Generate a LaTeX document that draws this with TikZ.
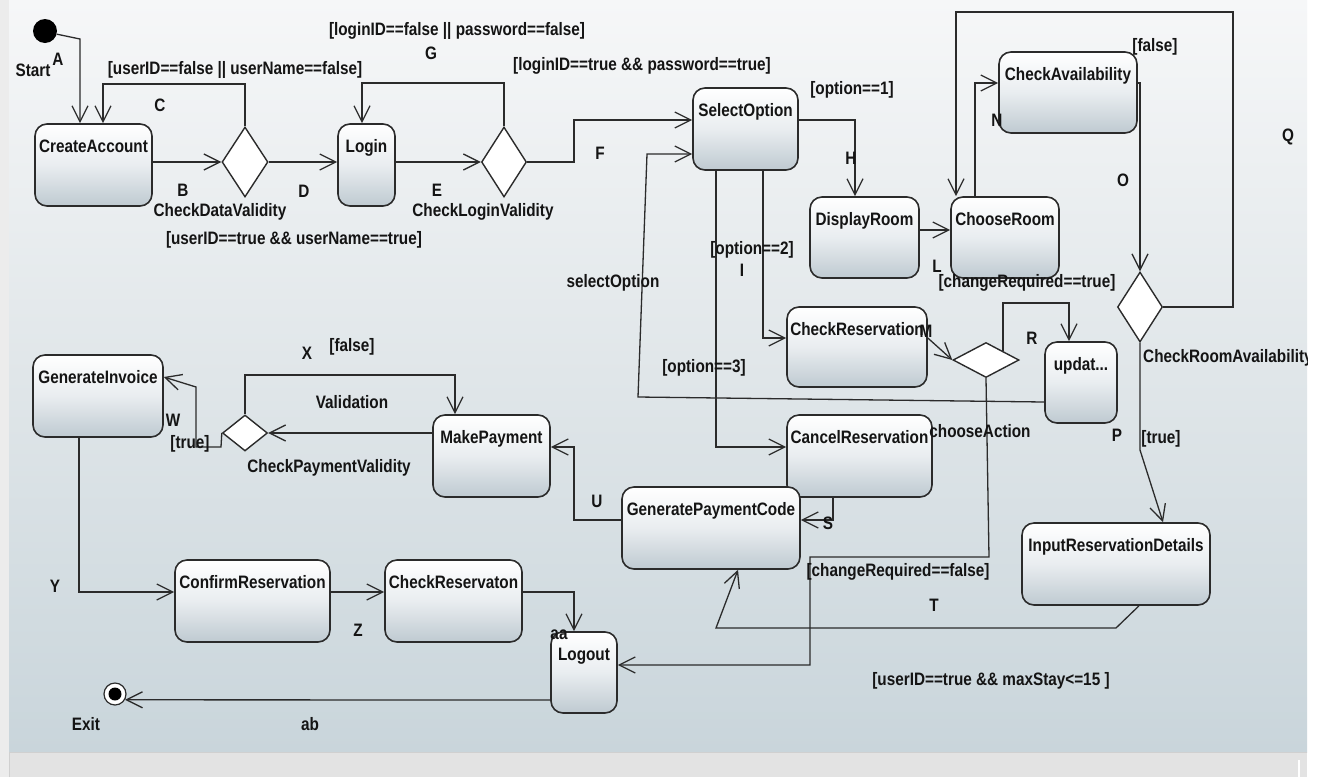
\documentclass[tikz,border=0pt]{standalone}
\usepackage{fontspec}
\newfontfamily\diagfont{Liberation Sans}[FakeStretch=0.85]
\usetikzlibrary{arrows.meta,shapes.geometric}

\definecolor{edge}{HTML}{2B2B2B}
\definecolor{ink}{HTML}{141414}
\definecolor{boxbot}{HTML}{BFCAD1}
\definecolor{boxmid}{HTML}{E9EDF0}
\definecolor{pantop}{HTML}{F6F7F8}
\definecolor{panmid}{HTML}{E0E6E9}
\definecolor{panbot}{HTML}{C9D5DB}
\definecolor{frame}{HTML}{ECECEC}
\definecolor{strip}{HTML}{E3E3E3}
\definecolor{stripline}{HTML}{D0D0D0}

% activity box: name, x1, y1, x2, y2, title (title sits near the top edge)
\newcommand\actbox[6]{%
  \node[act, minimum width={(#4-#2)*1pt}, minimum height={(#5-#3)*1pt}] (#1) at ({(#2+#4)/2},{(#3+#5)/2}) {};
  \node[lbl, anchor=base] (#1-t) at ({(#2+#4)/2},{#3+28}) {#6};
}

\begin{document}
\begin{tikzpicture}[x=1pt,y=-1pt,
  font=\diagfont\bfseries\fontsize{18}{21}\selectfont,
  act/.style={draw=edge, line width=1.6pt, rounded corners=12pt,
              top color=white, bottom color=boxbot, middle color=boxmid, inner sep=0pt},
  dec/.style={diamond, draw=edge, line width=1.4pt, fill=white, inner sep=0pt},
  lbl/.style={text=ink, inner sep=0pt, text height=13pt, text depth=3.5pt},
  conn/.style={draw=edge, line width=1.3pt},
  arr/.style={conn, -{Straight Barb[length=16pt,width=16pt]}},
]
\useasboundingbox (0,0) rectangle (1319,777);

% window background
\fill[frame] (0,0) rectangle (1319,777);
\fill[white] (1307,0) rectangle (1319,777);
\shade[top color=pantop, bottom color=panbot, middle color=panmid] (9,0) rectangle (1307,752);
\fill[strip] (9,752) rectangle (1307,777);
\draw[stripline, line width=1pt] (9,777) -- (9,752) -- (1307,752);
\draw[white, line width=1.5pt] (1299,760) -- (1299,777);

\begin{scope}
\clip (9,0) rectangle (1307,752);

% ---------- activities ----------
\actbox{ca}{35}{124}{152}{206}{CreateAccount}
\actbox{login}{338}{124}{395}{206}{Login}
\actbox{sel}{693}{88}{798}{170}{SelectOption}
\actbox{disp}{810}{197}{919}{278}{DisplayRoom}
\actbox{choose}{951}{197}{1059}{278}{ChooseRoom}
\actbox{avail}{999}{52}{1137}{133}{CheckAvailability}
\actbox{chkres}{787}{307}{927}{387}{CheckReservation}
\actbox{cancel}{787}{415}{932}{497}{CancelReservation}
\actbox{upd}{1045}{342}{1117}{423}{updat...}
\actbox{input}{1022}{523}{1210}{605}{InputReservationDetails}
\actbox{inv}{33}{355}{163}{437}{GenerateInvoice}
\actbox{pay}{433}{415}{550}{497}{MakePayment}
\actbox{gpc}{622}{487}{800}{569}{GeneratePaymentCode}
\actbox{conf}{175}{560}{330}{642}{ConfirmReservation}
\actbox{chk2}{385}{560}{522}{642}{CheckReservaton}
\actbox{logout}{551}{632}{617}{713}{Logout}

% ---------- decisions ----------
\node[dec, minimum width=46pt, minimum height=70pt] (dv) at (245,162) {};
\node[dec, minimum width=45pt, minimum height=70pt] (lv) at (504,162) {};
\node[dec, minimum width=45pt, minimum height=70pt] (ra) at (1140,307) {};
\node[dec, minimum width=66pt, minimum height=35pt] (choice) at (986,360) {};
\node[dec, minimum width=45pt, minimum height=36pt] (pv) at (245,433) {};

% ---------- initial and final states ----------
\node[circle, fill=black, minimum size=24pt, inner sep=0pt] (start) at (45,31) {};
\node[circle, draw=edge, line width=1.2pt, fill=white, minimum size=22pt, inner sep=0pt] (exit) at (115,694) {};
\node[circle, fill=black, minimum size=13pt, inner sep=0pt] (exitdot) at (exit.center) {};

% ---------- transitions ----------
\draw[arr] (start.-15) -- (80,39) -- (ca.north -| 80,0);
\draw[arr] (ca.east |- dv.west) -- (dv.west);
\draw[arr] (dv.north) |- (103,84) -- (ca.north -| 103,0);
\draw[arr] (dv.east) -- (login.west |- dv.east);
\draw[arr] (login.east |- lv.west) -- (lv.west);
\draw[arr] (lv.north) |- (362,83) -- (login.north -| 362,0);
\draw[arr] (lv.east) -| (574,120) -- (sel.west |- 0,120);
\draw[arr] (upd.west |- 0,402) -- (638,397) -- (647,154) -- (sel.west |- 0,154);
\draw[arr] (sel.east |- 0,120) -| (disp.north -| 855,0);
\draw[arr] (sel.south -| 763,0) |- (chkres.west |- 0,338);
\draw[arr] (sel.south -| 716,0) |- (cancel.west |- 0,447);
\draw[arr] (disp.east |- 0,230) -- (choose.west |- 0,230);
\draw[arr] (choose.north -| 975,0) |- (avail.west |- 0,83);
\draw[arr] (avail.east |- 0,83) -| (ra.north);
\draw[arr] (ra.east) -| (1233,12) -| (choose.north -| 956,0);
\draw[arr] (ra.south) -- (1140,450) -- (input.north -| 1163,0);
\draw[arr] (chkres.east |- 0,338) -- (choice.west);
\draw[arr] (choice.north east) |- (1069,303) -- (upd.north -| 1069,0);
\draw[arr] (choice.south) -- (989,557) -| (810,665) -- (logout.east |- 0,665);
\draw[arr] (cancel.south -| 833,0) |- (gpc.east |- 0,520);
\draw[arr] (input.south -| 1139,0) -- (1116,628) -- (716,628) -- (gpc.south -| 738,0);
\draw[arr] (gpc.west |- 0,520) -| (574,447) -- (pay.east |- 0,447);
\draw[arr] (pay.west |- pv.east) -- (pv.east);
\draw[arr] (pv.north) |- (455,375) -- (pay.north -| 455,0);
\draw[arr] (pv.west) -- (221,447) -- (196,447) -- (196,387) -- (inv.east |- 0,377);
\draw[arr] (inv.south -| 79,0) |- (conf.west |- 0,592);
\draw[arr] (conf.east |- 0,592) -- (chk2.west |- 0,592);
\draw[arr] (chk2.east |- 0,592) -| (logout.north -| 574,0);
\draw[arr] (logout.west |- 0,700) -- (exit.-30);

% ---------- names and guards ----------
\node[lbl] (tStart) at (33,72) {Start};
\node[lbl] (tA) at (58,61) {A};
\node[lbl] (gC) at (235,70) {[userID==false || userName==false]};
\node[lbl] (tC) at (160,107) {C};
\node[lbl] (tB) at (183,192) {B};
\node[lbl] (nDV) at (220,212) {CheckDataValidity};
\node[lbl] (tD) at (304,193) {D};
\node[lbl] (gD) at (294,240) {[userID==true \&\& userName==true]};
\node[lbl] (gG) at (457,31) {[loginID==false || password==false]};
\node[lbl] (tG) at (431,55) {G};
\node[lbl] (gF) at (642,66) {[loginID==true \&\& password==true]};
\node[lbl] (tE) at (437,192) {E};
\node[lbl] (nLV) at (483,212) {CheckLoginValidity};
\node[lbl] (tF) at (600,155) {F};
\node[lbl] (gH) at (852,90) {[option==1]};
\node[lbl] (tH) at (851,160) {H};
\node[lbl] (gQ) at (1155,47) {[false]};
\node[lbl] (tN) at (997,122) {N};
\node[lbl] (tO) at (1123,182) {O};
\node[lbl] (tQ) at (1288,137) {Q};
\node[lbl] (tL) at (937,268) {L};
\node[lbl] (gR) at (1027,283) {[changeRequired==true]};
\node[lbl] (gI) at (752,250) {[option==2]};
\node[lbl] (tI) at (742,272) {I};
\node[lbl] (tSel) at (613,283) {selectOption};
\node[lbl] (gJ) at (704,368) {[option==3]};
\node[lbl] (tM) at (926,333) {M};
\node[lbl] (tR) at (1032,340) {R};
\node[lbl, anchor=west] (nRA) at (1143,358) {CheckRoomAvailability};
\node[lbl] (nCA) at (980,433) {chooseAction};
\node[lbl] (tP) at (1117,437) {P};
\node[lbl] (gP) at (1161,439) {[true]};
\node[lbl] (tX) at (307,355) {X};
\node[lbl] (gX) at (352,347) {[false]};
\node[lbl] (tVal) at (352,404) {Validation};
\node[lbl] (tW) at (173,422) {W};
\node[lbl] (gW) at (190,444) {[true]};
\node[lbl] (nPV) at (329,468) {CheckPaymentValidity};
\node[lbl] (tU) at (597,503) {U};
\node[lbl] (tS) at (828,525) {S};
\node[lbl] (gS) at (898,572) {[changeRequired==false]};
\node[lbl] (tT) at (934,607) {T};
\node[lbl] (gT) at (991,681) {[userID==true \&\& maxStay<=15 ]};
\node[lbl] (tY) at (55,588) {Y};
\node[lbl] (tZ) at (358,632) {Z};
\node[lbl] (taa) at (559,635) {aa};
\node[lbl] (tExit) at (86,726) {Exit};
\node[lbl] (tab) at (310,726) {ab};
\end{scope}
\end{tikzpicture}
\end{document}
